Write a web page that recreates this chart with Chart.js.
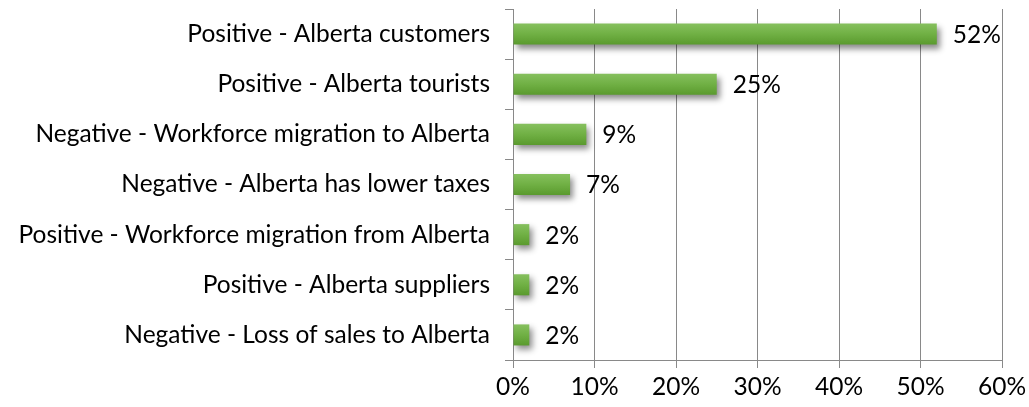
<!DOCTYPE html>
<html>
<head>
<meta charset="utf-8">
<script src="https://cdn.jsdelivr.net/npm/chart.js@4"></script>
<style>
  html, body { margin: 0; padding: 0; background: #ffffff; }
  #wrap { width: 1029px; height: 407px; position: relative; }
</style>
</head>
<body>
<div id="wrap"><canvas id="chart" width="1029" height="407"></canvas></div>
<script>
// Impact categories and share of respondents (%)
const categories = [
  'Positive - Alberta customers',
  'Positive - Alberta tourists',
  'Negative - Workforce migration to Alberta',
  'Negative - Alberta has lower taxes',
  'Positive - Workforce migration from Alberta',
  'Positive - Alberta suppliers',
  'Negative - Loss of sales to Alberta'
];
const shares = [52, 25, 9, 7, 2, 2, 2];
const xTicks = [0, 10, 20, 30, 40, 50, 60];

const FONT = { family: 'Lato, "Liberation Sans", sans-serif', size: 24.5 };
const GRID = '#898989';
const BAR_HALF = 10.5;

// Vertical green gradient for each bar, centred on its category
function barFill(c) {
  const chart = c.chart;
  const yScale = chart.scales.y;
  if (!chart.chartArea || !yScale) return '#6aaa42';
  const yc = yScale.getPixelForValue(c.dataIndex);
  const g = chart.ctx.createLinearGradient(0, yc - BAR_HALF, 0, yc + BAR_HALF);
  g.addColorStop(0, '#86c05e');
  g.addColorStop(0.5, '#70b044');
  g.addColorStop(1, '#5a9a2e');
  return g;
}

// Soft drop shadow under the bars
const barShadow = {
  id: 'barShadow',
  beforeDatasetsDraw(chart) {
    const ctx = chart.ctx;
    ctx.save();
    ctx.shadowColor = 'rgba(0,0,0,0.45)';
    ctx.shadowBlur = 6;
    ctx.shadowOffsetX = 3;
    ctx.shadowOffsetY = 4;
  },
  afterDatasetsDraw(chart) {
    chart.ctx.restore();
  }
};

// Percentage labels to the right of each bar
const valueLabels = {
  id: 'valueLabels',
  afterDatasetsDraw(chart) {
    const ctx = chart.ctx;
    const meta = chart.getDatasetMeta(0);
    const data = chart.data.datasets[0].data;
    ctx.save();
    ctx.font = FONT.size + 'px ' + FONT.family;
    ctx.fillStyle = '#000000';
    ctx.textAlign = 'left';
    ctx.textBaseline = 'middle';
    meta.data.forEach((bar, i) => {
      ctx.fillText(data[i] + '%', bar.x + 16, bar.y + 1);
    });
    ctx.restore();
  }
};

new Chart(document.getElementById('chart'), {
  type: 'bar',
  data: {
    labels: categories,
    datasets: [{
      data: shares,
      backgroundColor: barFill,
      borderWidth: 0,
      barPercentage: 0.42,
      categoryPercentage: 1.0
    }]
  },
  options: {
    indexAxis: 'y',
    responsive: false,
    animation: false,
    events: [],
    layout: { padding: { top: 9, right: 27, left: 0, bottom: 0 } },
    plugins: {
      legend: { display: false },
      tooltip: { enabled: false }
    },
    scales: {
      x: {
        min: xTicks[0],
        max: xTicks[xTicks.length - 1],
        afterBuildTicks(scale) {
          scale.ticks = xTicks.map(v => ({ value: v }));
        },
        afterFit(scale) {
          scale.height = 47;
          scale.paddingLeft = 0;
          scale.paddingRight = 0;
        },
        ticks: {
          color: '#000000',
          font: FONT,
          padding: 4,
          maxRotation: 0,
          callback: v => v + '%'
        },
        grid: {
          color: GRID,
          lineWidth: 1,
          drawTicks: true,
          tickLength: 8,
          tickColor: GRID
        },
        border: { display: true, color: GRID, width: 1 }
      },
      y: {
        afterFit(scale) {
          scale.width = 513;
          scale.paddingTop = 0;
          scale.paddingBottom = 0;
        },
        ticks: {
          color: '#000000',
          font: FONT,
          padding: 15,
          autoSkip: false
        },
        grid: {
          offset: true,
          drawOnChartArea: false,
          drawTicks: true,
          tickLength: 8,
          color: GRID,
          tickColor: GRID
        },
        border: { display: true, color: GRID, width: 1 }
      }
    }
  },
  plugins: [barShadow, valueLabels]
});
</script>
</body>
</html>
